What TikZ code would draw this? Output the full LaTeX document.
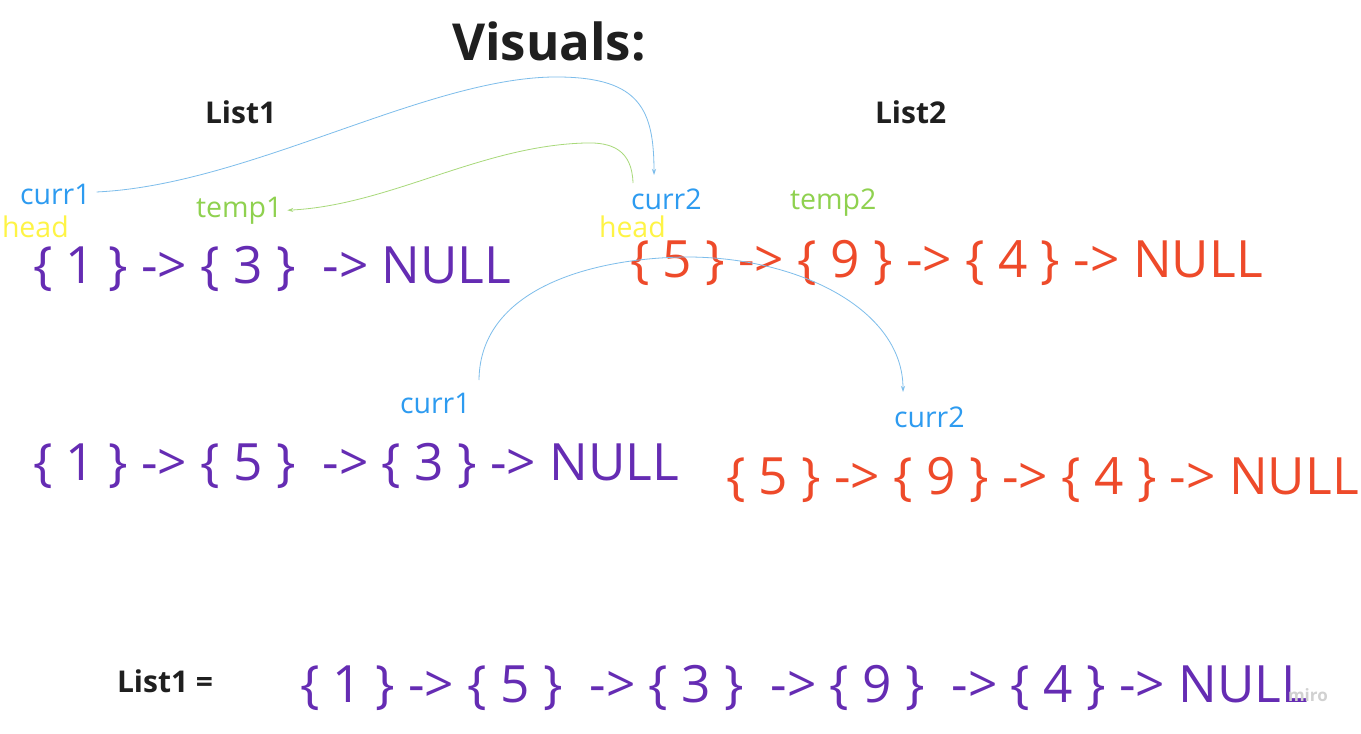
\documentclass[tikz,border=0pt]{standalone}
\usepackage{fontspec}
\setmainfont{Open Sans}
\usetikzlibrary{arrows.meta}
\definecolor{lpurple}{HTML}{652CB3}
\definecolor{lred}{HTML}{EE4A2A}
\definecolor{lblue}{HTML}{2D9BF0}
\definecolor{lgreen}{HTML}{8FD14F}
\definecolor{lyellow}{HTML}{FEF445}
\definecolor{arrowblue}{HTML}{7DBDEB}
\definecolor{arrowgreen}{HTML}{A8D97A}
\begin{document}
\begin{tikzpicture}[x=1pt,y=-1pt,
  every node/.style={inner sep=0pt,outer sep=0pt,anchor=base west},
  title/.style={font=\fontsize{51}{60}\selectfont\bfseries,text=black!88},
  heading/.style={font=\fontsize{30}{36}\selectfont\bfseries,text=black!88},
  ptr/.style={font=\fontsize{28.5}{34}\selectfont},
  listtext/.style={font=\fontsize{51.4}{60}\selectfont},
  link/.style={line width=0.8pt,-{Stealth[length=6pt,width=4pt]}}]
\useasboundingbox (0,0) rectangle (1361,734);
\fill[white] (0,0) rectangle (1361,734);

% headings
\node[title] (visuals) at (452,60) {Visuals:};
\node[heading] (hlist1) at (205,123) {List1};
\node[heading] (hlist2) at (875,123) {List2};

% first state: pointers
\node[ptr,text=lblue] (curr1a) at (20,204) {curr1};
\node[ptr,text=lyellow] (head1) at (2,237) {head};
\node[ptr,text=lgreen] (temp1) at (196,217) {temp1};
\node[ptr,text=lblue] (curr2a) at (631,209) {curr2};
\node[ptr,text=lyellow] (head2) at (599,237) {head};
\node[ptr,text=lgreen] (temp2) at (790,209) {temp2};

% first state: lists
\node[listtext,text=lpurple] (l1a) at (33,283) {\{ 1 \} -> \{ 3 \} \ -> NULL};
\node[listtext,text=lred] (l2a) at (630,277) {\{ 5 \} -> \{ 9 \} -> \{ 4 \} -> NULL};

% second state
\node[ptr,text=lblue] (curr1b) at (400,413) {curr1};
\node[ptr,text=lblue] (curr2b) at (894,427) {curr2};
\node[listtext,text=lpurple] (l1b) at (33,480) {\{ 1 \} -> \{ 5 \} \ -> \{ 3 \} -> NULL};
\node[listtext,text=lred] (l2b) at (726,494) {\{ 5 \} -> \{ 9 \} -> \{ 4 \} -> NULL};

% result
\node[heading] (res) at (117,692) {List1 =};
\node[listtext,text=lpurple] (l1c) at (300,702) {\{ 1 \} -> \{ 5 \} \ -> \{ 3 \} \ -> \{ 9 \} \ -> \{ 4 \} -> NULL};
\node[font=\fontsize{17}{20}\selectfont\bfseries,text=black!18] (brand) at (1288,701) {miro};

% pointer moves (shifts are in page points, positive = upwards)
\draw[link,arrowblue] ([xshift=6pt,yshift=2pt]curr1a.east)
  .. controls (250,185) and (430,75) .. (560,77)
  .. controls (640,78) and (654,110) .. ([xshift=23pt,yshift=34pt]curr2a.base west);
\draw[link,arrowgreen] ([xshift=2pt,yshift=26pt]curr2a.base west)
  .. controls (632,150) and (612,142) .. (585,143)
  .. controls (480,146) and (390,205) .. ([xshift=5pt]temp1.east);
\draw[link,arrowblue] ([xshift=79pt,yshift=33pt]curr1b.base west)
  .. controls (480,285) and (600,257) .. (690,257)
  .. controls (800,258) and (903,310) .. ([xshift=9pt,yshift=35pt]curr2b.base west);
\end{tikzpicture}
\end{document}
